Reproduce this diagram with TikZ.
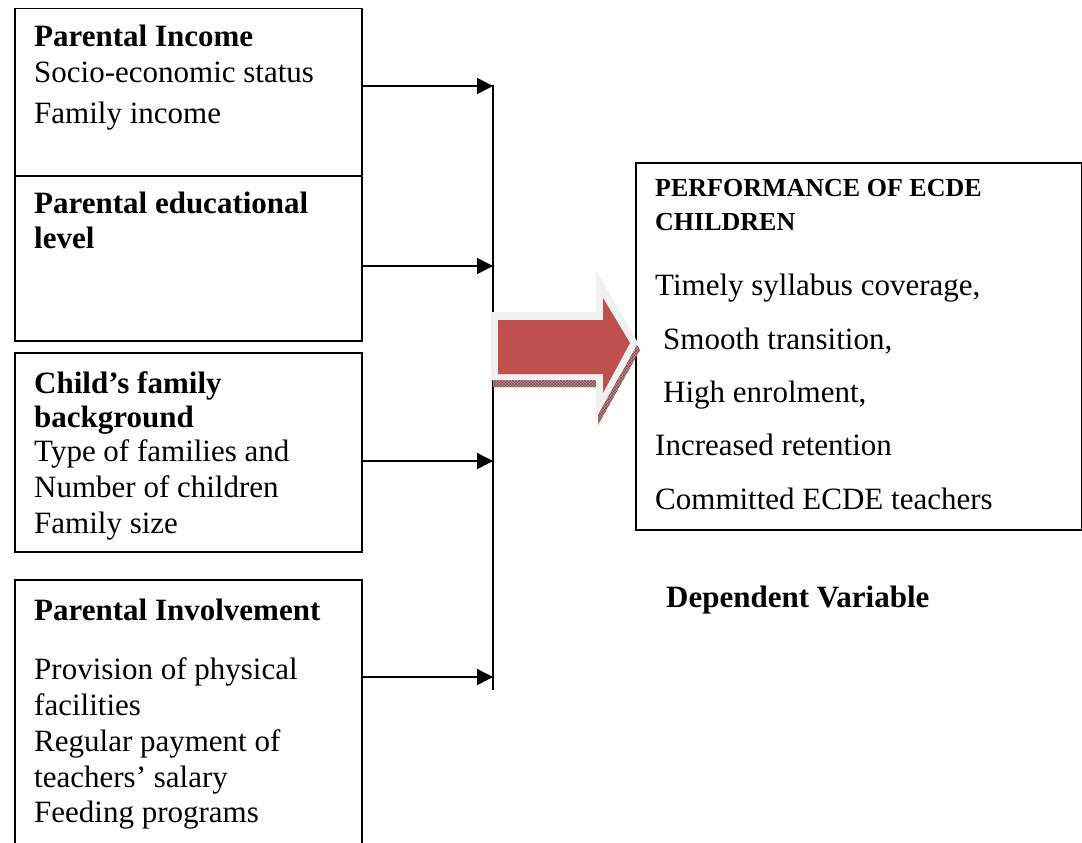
\documentclass[tikz,border=0pt]{standalone}
\usepackage{fontspec}
\setmainfont{Liberation Serif}
\usetikzlibrary{arrows.meta,patterns}
\definecolor{arrowred}{RGB}{192,80,77}
\definecolor{arrowrim}{RGB}{240,240,240}
\definecolor{arrowshade}{RGB}{190,150,150}
\definecolor{hatchcol}{RGB}{130,70,70}
\begin{document}
\begin{tikzpicture}[x=1pt,y=-1pt,
  box/.style={draw, line width=1.5pt, inner sep=0pt, anchor=north west},
  txt/.style={anchor=base west, inner sep=0pt, font=\fontsize{31}{37}\selectfont},
  headtxt/.style={anchor=base west, inner sep=0pt, font=\fontsize{31}{37}\selectfont\bfseries},
  smallhead/.style={anchor=base west, inner sep=0pt, font=\fontsize{26}{30}\selectfont\bfseries},
  conn/.style={line width=1.5pt, -{Triangle[length=16pt,width=16pt]}},
  bus/.style={line width=1.5pt}
]
\useasboundingbox (0,0) rectangle (1082,843);
\clip (0,0) rectangle (1082,843);
\fill[white] (0,0) rectangle (1082,843);

% left boxes
\node[box, minimum width=347pt, minimum height=167pt] (b1) at (14,8) {};
\node[box, minimum width=347pt, minimum height=165pt] (b2) at (14,175) {};
\node[box, minimum width=347pt, minimum height=199pt] (b3) at (14,352) {};
\node[box, minimum width=347pt, minimum height=290pt] (b4) at (14,579) {};

% right box
\node[box, minimum width=446pt, minimum height=367pt] (out) at (635,162) {};

% texts box 1
\node[headtxt] (t1a) at (34,47) {Parental Income};
\node[txt] (t1b) at (34,83) {Socio-economic status};
\node[txt] (t1c) at (34,123) {Family income};
% box 2
\node[headtxt] (t2a) at (34,213) {Parental educational};
\node[headtxt] (t2b) at (34,248) {level};
% box 3
\node[headtxt] (t3a) at (34,393) {Child’s family};
\node[headtxt] (t3b) at (34,427) {background};
\node[txt] (t3c) at (34,461) {Type of families and};
\node[txt] (t3d) at (34,497) {Number of children};
\node[txt] (t3e) at (34,533) {Family size};
% box 4
\node[headtxt] (t4a) at (34,620) {Parental Involvement};
\node[txt] (t4b) at (34,679) {Provision of physical};
\node[txt] (t4c) at (34,715) {facilities};
\node[txt] (t4d) at (34,751) {Regular payment of};
\node[txt] (t4e) at (34,787) {teachers’ salary};
\node[txt] (t4f) at (34,822) {Feeding programs};
% right box texts
\node[smallhead] (r1) at (655,196) {PERFORMANCE OF ECDE};
\node[smallhead] (r2) at (655,230) {CHILDREN};
\node[txt] (r3) at (655,295) {Timely syllabus coverage,};
\node[txt] (r4) at (663,349) {Smooth transition,};
\node[txt] (r5) at (663,402) {High enrolment,};
\node[txt] (r6) at (655,455) {Increased retention};
\node[txt] (r7) at (655,509) {Committed ECDE teachers};
\node[headtxt] (dv) at (666,607) {Dependent Variable};

% bus and connectors
\coordinate (top) at (493,85);
\coordinate (bot) at (493,690);
\coordinate (j1) at (493,86);
\coordinate (j2) at (493,266);
\coordinate (j3) at (493,461);
\coordinate (j4) at (493,677);
\draw[bus] (top) -- (bot);
\draw[conn] (b1.east |- j1) -- (j1);
\draw[conn] (b2.east |- j2) -- (j2);
\draw[conn] (b3.east |- j3) -- (j3);
\draw[conn] (b4.east |- j4) -- (j4);

% big block arrow
\begin{scope}[shift={(2,7)}]
\fill[arrowshade] (491,312) -- (596,312) -- (596,270) -- (638,343) -- (596,418) -- (596,380) -- (491,380) -- cycle;
\fill[pattern=crosshatch, pattern color=hatchcol] (491,312) -- (596,312) -- (596,270) -- (638,343) -- (596,418) -- (596,380) -- (491,380) -- cycle;
\end{scope}
\fill[arrowrim] (491,312) -- (596,312) -- (596,270) -- (638,343) -- (596,418) -- (596,380) -- (491,380) -- cycle;
\fill[arrowred] (498,320) -- (603,320) -- (603,298) -- (630,343) -- (603,393) -- (603,374) -- (498,374) -- cycle;
\end{tikzpicture}
\end{document}
